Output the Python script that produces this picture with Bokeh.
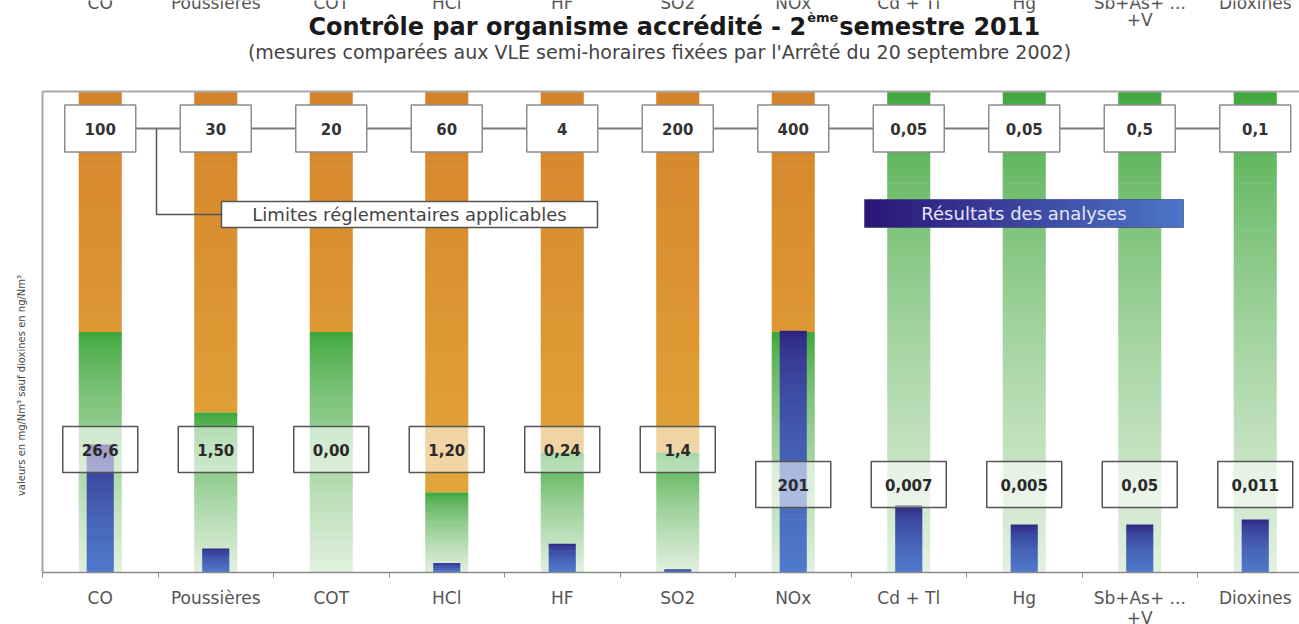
import numpy as np
from bokeh.plotting import figure
from bokeh.models import ColumnDataSource, Range1d, FixedTicker, GlobalInlineStyleSheet
from bokeh.embed import file_html
from bokeh.resources import INLINE
from bokeh.core.properties import value

# ---------------- data ----------------
categories = ["CO", "Poussières", "COT", "HCl", "HF", "SO2", "NOx",
              "Cd + Tl", "Hg", "Sb+As+ ...\n+V", "Dioxines"]
limit_half_hour = [100, 30, 20, 60, 4, 200, 400, 0.05, 0.05, 0.5, 0.1]
limit_daily = [50, 10, 10, 10, 1, 50, 200, 0.05, 0.05, 0.5, 0.1]
results = [26.6, 1.50, 0.00, 1.20, 0.24, 1.4, 201, 0.007, 0.005, 0.05, 0.011]
limit_labels = ["100", "30", "20", "60", "4", "200", "400", "0,05", "0,05", "0,5", "0,1"]
result_labels = ["26,6", "1,50", "0,00", "1,20", "0,24", "1,4", "201",
                 "0,007", "0,005", "0,05", "0,011"]
title_main = "Contrôle par organisme accrédité - 2"
title_sup = "ème"
title_end = " semestre 2011"
subtitle = "(mesures comparées aux VLE semi-horaires fixées par l'Arrêté du 20 septembre 2002)"
y_label = "valeurs en mg/Nm³ sauf dioxines en ng/Nm³"
callout_limits = "Limites réglementaires applicables"
callout_results = "Résultats des analyses"

# ---------------- layout / style ----------------
FONT = "DejaVu Sans"
W, H = 1299, 640
AX_Y = 572.0            # pixel row of the x axis
TOP_Y = 91.0            # pixel row of the top frame line
LEFT_X = 42.0           # pixel column of the left frame line
CAT_PX = 115.5          # pixels per category
PX_PER_UNIT = (AX_Y - TOP_Y) / 100.0
X0 = -0.5 - LEFT_X / CAT_PX

def px2x(px):
    return X0 + px / CAT_PX

def py2y(py):
    return (AX_Y - py) / PX_PER_UNIT

ORANGE_TOP, ORANGE_BOT = "#d4832b", "#e6ac3c"
GREEN_TOP, GREEN_BOT = "#3aa537", "#e2f0df"
BLUE_TOP, BLUE_BOT = "#2b1b79", "#4f7acb"
RES_LEFT, RES_RIGHT = "#2a1677", "#4c76c8"
TXT = "#555555"

def hex2rgb(h):
    h = h.lstrip("#")
    return [int(h[i:i + 2], 16) for i in (0, 2, 4)]

def mix(a, b, t):
    t = min(max(t, 0.0), 1.0)
    ra, rb = hex2rgb(a), hex2rgb(b)
    return "#%02x%02x%02x" % tuple(int(round(ra[k] + (rb[k] - ra[k]) * t)) for k in range(3))

n = len(categories)
xs = np.arange(n)
pct_result = 100.0 * np.array(results) / np.array(limit_half_hour)
pct_daily = 100.0 * np.array(limit_daily) / np.array(limit_half_hour)
result_box_row = [0] * 6 + [1] * 5

X_END = X0 + W / CAT_PX
p = figure(width=W, height=H,
           x_range=Range1d(X0, X_END),
           y_range=Range1d(0, py2y(0)),
           output_backend="svg", toolbar_location=None,
           min_border_left=0, min_border_right=0,
           min_border_top=0, min_border_bottom=int(H - AX_Y),
           background_fill_color="white", border_fill_color="white",
           outline_line_color=None)
p.stylesheets = [GlobalInlineStyleSheet(
    css="html, body { margin: 0 !important; padding: 0 !important; overflow: hidden !important; }")]
p.grid.visible = False
p.yaxis.visible = False

def vslices(xc, half_w, lo, hi, color_fn, step):
    m = max(1, int(np.ceil((hi - lo) / step)))
    edges = np.linspace(lo, hi, m + 1)
    out = []
    for k in range(m):
        b, t = edges[k], edges[k + 1]
        out.append((xc - half_w, xc + half_w, b, min(t + 0.15, hi), color_fn((b + t) / 2)))
    return out

# background bars: orange above the daily limit, green (fading) below
BAR_HALF = 43 / CAT_PX / 2
quads = []
for i in range(n):
    g = pct_daily[i]
    quads += vslices(xs[i], BAR_HALF, 0, g,
                     lambda y, g=g: mix(GREEN_TOP, GREEN_BOT, ((g - y) / g) ** 0.7), 0.8)
    if g < 100:
        quads += vslices(xs[i], BAR_HALF, g, 100,
                         lambda y: mix(ORANGE_BOT, ORANGE_TOP, y / 100.0), 0.8)

# measured results (percentage of the half-hour limit)
BLUE_HALF = 27 / CAT_PX / 2
for i in range(n):
    top = pct_result[i]
    if top <= 0:
        continue
    quads += vslices(xs[i], BLUE_HALF, 0, top,
                     lambda y, top=top: mix(BLUE_TOP, BLUE_BOT, ((top - y) / top) ** 0.5), 0.5)

qsrc = ColumnDataSource(dict(left=[q[0] for q in quads], right=[q[1] for q in quads],
                             bottom=[q[2] for q in quads], top=[q[3] for q in quads],
                             color=[q[4] for q in quads]))
p.quad(left="left", right="right", bottom="bottom", top="top",
       fill_color="color", line_color=None, source=qsrc)

# frame lines (top & left)
p.segment(x0=[-0.5, -0.5], y0=[100, 0], x1=[X_END, -0.5], y1=[100, 100],
          line_color="#a8a8a8", line_width=2)

# limit boxes with connecting line
LIM_Y = py2y(128)
p.line(x=[xs[0], xs[-1]], y=[LIM_Y, LIM_Y], line_color="#7a7a7a", line_width=2)
CALL_Y = py2y(214)
p.line(x=[px2x(156), px2x(156), px2x(221)], y=[LIM_Y, CALL_Y, CALL_Y],
       line_color="#555555", line_width=1.5)
p.rect(x=xs, y=LIM_Y, width=71 / CAT_PX, height=47 / PX_PER_UNIT,
       fill_color="white", line_color="#8c8c8c", line_width=1.5)
p.text(x=xs, y=LIM_Y, text=limit_labels, text_align="center", text_baseline="middle",
       text_font=value(FONT), text_font_style="bold", text_font_size="15px",
       text_color="#333333")

# result boxes (semi transparent)
res_y = [py2y(449) if r == 0 else py2y(484) for r in result_box_row]
p.rect(x=xs, y=res_y, width=75 / CAT_PX, height=46 / PX_PER_UNIT,
       fill_color="white", fill_alpha=0.55, line_color="#555555", line_width=1.5)
p.text(x=xs, y=res_y, text=result_labels, text_align="center", text_baseline="middle",
       text_font=value(FONT), text_font_style="bold", text_font_size="15px",
       text_color="#2a2a2a")

# callout: limits
p.quad(left=px2x(221), right=px2x(597), bottom=CALL_Y - 13 / PX_PER_UNIT,
       top=CALL_Y + 13 / PX_PER_UNIT, fill_color="white", line_color="#555555", line_width=1.5)
p.text(x=[(px2x(221) + px2x(597)) / 2], y=[CALL_Y], text=[callout_limits],
       text_align="center", text_baseline="middle", text_font=value(FONT),
       text_font_size="18px", text_color="#444444")

# callout: results (horizontal gradient)
r_l, r_r = px2x(864), px2x(1183)
r_b, r_t = py2y(227), py2y(199)
edges = np.linspace(r_l, r_r, 61)
p.quad(left=edges[:-1], right=np.minimum(edges[1:] + 0.01, r_r), bottom=r_b, top=r_t,
       fill_color=[mix(RES_LEFT, RES_RIGHT, k / 59) for k in range(60)], line_color=None)
p.quad(left=r_l, right=r_r, bottom=r_b, top=r_t, fill_color=None,
       line_color="#3a3a6a", line_alpha=0.6, line_width=1)
p.text(x=[(r_l + r_r) / 2], y=[(r_b + r_t) / 2], text=[callout_results],
       text_align="center", text_baseline="middle", text_font=value(FONT),
       text_font_size="18px", text_color="#e6e6f6")

# x axis (category names; ticks at category boundaries)
p.xaxis.ticker = FixedTicker(ticks=list(xs), minor_ticks=list(np.arange(-0.5, n, 1.0)))
p.xaxis.major_label_overrides = {int(i): categories[i] for i in range(n)}
p.xaxis.bounds = (-0.5, X_END)
p.xaxis.major_tick_line_color = None
p.xaxis.major_tick_out = 0
p.xaxis.major_tick_in = 0
p.xaxis.minor_tick_out = 5
p.xaxis.minor_tick_in = 0
p.xaxis.minor_tick_line_color = "#8a8a8a"
p.xaxis.axis_line_color = "#8a8a8a"
p.xaxis.axis_line_width = 1.5
p.xaxis.major_label_standoff = 10
p.xaxis.major_label_text_font = FONT
p.xaxis.major_label_text_font_size = "17px"
p.xaxis.major_label_text_line_height = 1.0
p.xaxis.major_label_text_color = TXT

# repeated (clipped) category row at the very top of the picture
first_lines = [c.split("\n")[0] for c in categories]
p.text(x=xs, y=[py2y(2)] * n, text=first_lines, text_align="center", text_baseline="middle",
       text_font=value(FONT), text_font_size="17px", text_color=TXT)
second = [(i, c.split("\n")[1]) for i, c in enumerate(categories) if "\n" in c]
p.text(x=[xs[i] for i, _ in second], y=[py2y(19)] * len(second), text=[s for _, s in second],
       text_align="center", text_baseline="middle", text_font=value(FONT),
       text_font_size="17px", text_color=TXT)

# y label
p.text(x=[px2x(21)], y=[py2y(385)], text=[y_label], angle=np.pi / 2,
       text_align="center", text_baseline="middle", text_font=value(FONT),
       text_font_size="10px", text_color="#444444")

# title (with superscript) and subtitle
fs_t, fs_s = 24, 13
wA, wS, wC = 20.735 * fs_t, 2.398 * fs_s + 2, 8.717 * fs_t
start = 678 - (wA + wS + wC) / 2
T_BASE = py2y(26)
p.text(x=[px2x(start + wA)], y=[T_BASE], text=[title_main], text_align="right",
       text_baseline="alphabetic", text_font=value(FONT), text_font_style="bold",
       text_font_size="%dpx" % fs_t, text_color="#1a1a1a")
p.text(x=[px2x(start + wA + 1)], y=[py2y(17)], text=[title_sup], text_align="left",
       text_baseline="alphabetic", text_font=value(FONT), text_font_style="bold",
       text_font_size="%dpx" % fs_s, text_color="#1a1a1a")
p.text(x=[px2x(start + wA + wS)], y=[T_BASE], text=[title_end], text_align="left",
       text_baseline="alphabetic", text_font=value(FONT), text_font_style="bold",
       text_font_size="%dpx" % fs_t, text_color="#1a1a1a")
p.text(x=[px2x(659)], y=[py2y(51)], text=[subtitle], text_align="center",
       text_baseline="alphabetic", text_font=value(FONT), text_font_size="19px",
       text_color="#444444")

open("out.html", "w").write(file_html(p, INLINE))
